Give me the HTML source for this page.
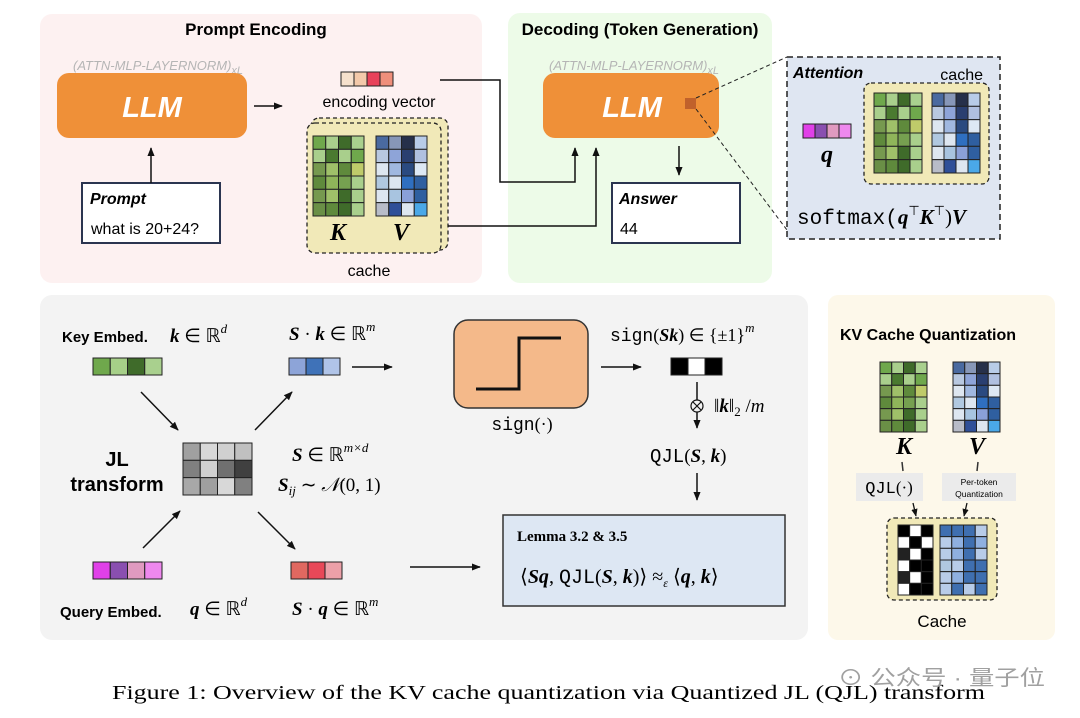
<!DOCTYPE html>
<html><head><meta charset="utf-8"><style>
html,body{margin:0;padding:0;background:#fff;}
svg{display:block;}
.s{font-family:"Liberation Sans",sans-serif;}
.m{font-family:"Liberation Serif",serif;font-style:italic;font-weight:bold;}
.r{font-family:"Liberation Serif",serif;}
.t{font-family:"Liberation Mono",monospace;}
</style></head><body>
<svg id="sv" width="1080" height="718" viewBox="0 0 1080 718" xmlns="http://www.w3.org/2000/svg">
<defs><marker id="a" viewBox="0 0 10 10" refX="9" refY="5" markerWidth="6" markerHeight="6" orient="auto"><path d="M0,1 L10,5 L0,9 z" fill="#111"/></marker></defs>
<rect x="40" y="14" width="442" height="269" rx="12" fill="#fdf1f1"/>
<rect x="508" y="13" width="264" height="270" rx="12" fill="#edfbe8"/>
<rect x="40" y="295" width="768" height="345" rx="12" fill="#f3f3f3"/>
<rect x="828" y="295" width="227" height="345" rx="10" fill="#fdf8ea"/>
<text x="256" y="35" class="s" font-size="17" font-weight="bold" text-anchor="middle">Prompt Encoding</text>
<text x="640" y="35" class="s" font-size="17" font-weight="bold" text-anchor="middle">Decoding (Token Generation)</text>
<text x="73" y="70" class="s" font-size="13" font-style="italic" fill="#b5b5b5">(ATTN-MLP-LAYERNORM)<tspan font-size="11" dy="4">xL</tspan></text>
<rect x="57" y="73" width="190" height="65" rx="12" fill="#ef9038"/>
<text x="152" y="117" class="s" font-size="29" font-weight="bold" font-style="italic" fill="#fff" text-anchor="middle">LLM</text>
<line x1="254" y1="106" x2="282" y2="106" stroke="#111" stroke-width="1.5" marker-end="url(#a)"/>
<g id="enc"></g>
<text x="379" y="107" class="s" font-size="16" text-anchor="middle">encoding vector</text>
<rect x="311" y="118" width="137" height="132" rx="8" fill="#f1e9b8" stroke="#222" stroke-dasharray="4,3" stroke-width="1.3"/>
<rect x="307" y="123" width="134" height="130" rx="8" fill="#f1e9b8" stroke="#222" stroke-dasharray="4,3" stroke-width="1.3"/>
<g id="g1"></g>
<text x="338" y="240" class="m" font-size="24" text-anchor="middle">K</text>
<text x="401" y="240" class="m" font-size="24" text-anchor="middle">V</text>
<text x="369" y="276" class="s" font-size="16" text-anchor="middle">cache</text>
<rect x="82" y="183" width="138" height="60" fill="#fff" stroke="#2b3550" stroke-width="2"/>
<text x="90" y="204" class="s" font-size="16" font-weight="bold" font-style="italic">Prompt</text>
<text x="91" y="234" class="s" font-size="16">what is 20+24?</text>
<line x1="151" y1="183" x2="151" y2="148" stroke="#111" stroke-width="1.5" marker-end="url(#a)"/>
<polyline points="440,80 500,80 500,182 575,182 575,148" fill="none" stroke="#111" stroke-width="1.5" marker-end="url(#a)"/>
<polyline points="448,226 596,226 596,148" fill="none" stroke="#111" stroke-width="1.5" marker-end="url(#a)"/>
<text x="549" y="70" class="s" font-size="13" font-style="italic" fill="#b5b5b5">(ATTN-MLP-LAYERNORM)<tspan font-size="11" dy="4">xL</tspan></text>
<rect x="543" y="73" width="176" height="65" rx="12" fill="#ef9038"/>
<text x="632" y="117" class="s" font-size="29" font-weight="bold" font-style="italic" fill="#fff" text-anchor="middle">LLM</text>
<rect x="685" y="98" width="11" height="11" fill="#c0612b"/>
<line x1="679" y1="146" x2="679" y2="175" stroke="#111" stroke-width="1.5" marker-end="url(#a)"/>
<rect x="612" y="183" width="128" height="60" fill="#fff" stroke="#2b3550" stroke-width="2"/>
<text x="619" y="204" class="s" font-size="16" font-weight="bold" font-style="italic">Answer</text>
<text x="620" y="234" class="s" font-size="16">44</text>
<rect x="787" y="57" width="213" height="182" fill="#dfe6f2" stroke="#222" stroke-dasharray="6,4" stroke-width="1.5"/>
<line x1="696" y1="98" x2="787" y2="57" stroke="#222" stroke-dasharray="4,3"/>
<line x1="696" y1="109" x2="787" y2="230" stroke="#222" stroke-dasharray="4,3"/>
<text x="793" y="78" class="s" font-size="16" font-weight="bold" font-style="italic">Attention</text>
<text x="983" y="80" class="s" font-size="16" text-anchor="end">cache</text>
<rect x="864" y="83" width="125" height="101" rx="7" fill="#f1e9b8" stroke="#222" stroke-dasharray="4,3" stroke-width="1.3"/>
<g id="g2"></g>
<g id="qv"></g>
<text x="827" y="162" class="m" font-size="24" text-anchor="middle">q</text>
<text x="797" y="224" font-size="21"><tspan class="t">softmax(</tspan><tspan class="m">q</tspan><tspan class="r" font-size="13" dy="-9">⊤</tspan><tspan class="m" dy="9">K</tspan><tspan class="r" font-size="13" dy="-9">⊤</tspan><tspan class="r" dy="9">)</tspan><tspan class="m">V</tspan></text>
<text x="62" y="342" class="s" font-size="15" font-weight="bold">Key Embed.</text>
<text x="170" y="342" font-size="19"><tspan class="m">k</tspan><tspan class="r"> ∈ ℝ</tspan><tspan class="r" font-style="italic" font-size="13" dy="-9">d</tspan></text>
<text x="289" y="340" font-size="19"><tspan class="m">S</tspan><tspan class="r"> · </tspan><tspan class="m">k</tspan><tspan class="r"> ∈ ℝ</tspan><tspan class="r" font-style="italic" font-size="13" dy="-9">m</tspan></text>
<g id="vecs"></g>
<line x1="141" y1="392" x2="178" y2="430" stroke="#111" stroke-width="1.5" marker-end="url(#a)"/>
<line x1="255" y1="430" x2="292" y2="392" stroke="#111" stroke-width="1.5" marker-end="url(#a)"/>
<line x1="143" y1="548" x2="180" y2="511" stroke="#111" stroke-width="1.5" marker-end="url(#a)"/>
<line x1="258" y1="512" x2="295" y2="549" stroke="#111" stroke-width="1.5" marker-end="url(#a)"/>
<text x="117" y="466" class="s" font-size="20" font-weight="bold" text-anchor="middle">JL</text>
<text x="117" y="491" class="s" font-size="20" font-weight="bold" text-anchor="middle">transform</text>
<text x="292" y="461" font-size="19"><tspan class="m">S</tspan><tspan class="r"> ∈ ℝ</tspan><tspan class="r" font-style="italic" font-size="13" dy="-9">m×d</tspan></text>
<text x="278" y="491" font-size="19"><tspan class="m">S</tspan><tspan class="r" font-style="italic" font-size="13" dy="4">ij</tspan><tspan class="r" dy="-4"> ∼ </tspan><tspan class="r" font-style="italic">𝒩</tspan><tspan class="r">(0, 1)</tspan></text>
<line x1="352" y1="367" x2="392" y2="367" stroke="#111" stroke-width="1.5" marker-end="url(#a)"/>
<rect x="454" y="320" width="134" height="88" rx="14" fill="#f4b98a" stroke="#333" stroke-width="1.5"/>
<polyline points="476,389 519,389 519,338 561,338" fill="none" stroke="#111" stroke-width="3"/>
<text x="522" y="430" font-size="18" text-anchor="middle"><tspan class="t">sign</tspan><tspan class="r">(·)</tspan></text>
<line x1="601" y1="367" x2="641" y2="367" stroke="#111" stroke-width="1.5" marker-end="url(#a)"/>
<text x="610" y="341" font-size="18"><tspan class="t">sign</tspan><tspan class="r">(</tspan><tspan class="m">Sk</tspan><tspan class="r">) ∈ {±1}</tspan><tspan class="r" font-style="italic" font-size="13" dy="-9">m</tspan></text>
<line x1="697" y1="382" x2="697" y2="428" stroke="#111" stroke-width="1.5" marker-end="url(#a)"/>
<circle cx="697" cy="406" r="6" fill="#f3f3f3" stroke="#111" stroke-width="1.2"/>
<path d="M693,402 L701,410 M701,402 L693,410" stroke="#111" stroke-width="1.2"/>
<text x="714" y="412" font-size="19"><tspan class="r">‖</tspan><tspan class="m">k</tspan><tspan class="r">‖</tspan><tspan class="r" font-size="13" dy="4">2</tspan><tspan class="r" dy="-4"> /</tspan><tspan class="r" font-style="italic">m</tspan></text>
<text x="650" y="462" font-size="19"><tspan class="t">QJL</tspan><tspan class="r">(</tspan><tspan class="m">S</tspan><tspan class="r">, </tspan><tspan class="m">k</tspan><tspan class="r">)</tspan></text>
<line x1="697" y1="473" x2="697" y2="500" stroke="#111" stroke-width="1.5" marker-end="url(#a)"/>
<rect x="503" y="515" width="282" height="91" fill="#dde7f3" stroke="#333" stroke-width="1.5"/>
<text x="517" y="541" class="r" font-size="15" font-weight="bold">Lemma 3.2 &amp; 3.5</text>
<text x="520" y="583" font-size="20"><tspan class="r">⟨</tspan><tspan class="m">Sq</tspan><tspan class="r">, </tspan><tspan class="t">QJL</tspan><tspan class="r">(</tspan><tspan class="m">S</tspan><tspan class="r">, </tspan><tspan class="m">k</tspan><tspan class="r">)⟩ ≈</tspan><tspan class="r" font-style="italic" font-size="12" dy="4">ε</tspan><tspan class="r" dy="-4"> ⟨</tspan><tspan class="m">q</tspan><tspan class="r">, </tspan><tspan class="m">k</tspan><tspan class="r">⟩</tspan></text>
<line x1="410" y1="567" x2="480" y2="567" stroke="#111" stroke-width="1.5" marker-end="url(#a)"/>
<text x="60" y="617" class="s" font-size="15" font-weight="bold">Query Embed.</text>
<text x="190" y="615" font-size="19"><tspan class="m">q</tspan><tspan class="r"> ∈ ℝ</tspan><tspan class="r" font-style="italic" font-size="13" dy="-9">d</tspan></text>
<text x="292" y="615" font-size="19"><tspan class="m">S</tspan><tspan class="r"> · </tspan><tspan class="m">q</tspan><tspan class="r"> ∈ ℝ</tspan><tspan class="r" font-style="italic" font-size="13" dy="-9">m</tspan></text>
<text x="840" y="340" class="s" font-size="16" font-weight="bold">KV Cache Quantization</text>
<g id="g3"></g>
<text x="904" y="454" class="m" font-size="24" text-anchor="middle">K</text>
<text x="977" y="454" class="m" font-size="24" text-anchor="middle">V</text>
<line x1="902" y1="462" x2="903" y2="471" stroke="#333" stroke-width="1.5"/>
<line x1="978" y1="462" x2="977" y2="471" stroke="#333" stroke-width="1.5"/>
<rect x="856" y="473" width="67" height="28" fill="#ebebeb"/>
<rect x="942" y="473" width="74" height="28" fill="#ebebeb"/>
<text x="889" y="493" font-size="17" text-anchor="middle"><tspan class="t">QJL</tspan><tspan class="r">(·)</tspan></text>
<text x="979" y="485" class="s" font-size="8.5" text-anchor="middle">Per-token</text>
<text x="979" y="497" class="s" font-size="8.5" text-anchor="middle">Quantization</text>
<line x1="913" y1="503" x2="916" y2="516" stroke="#111" stroke-width="1.3" marker-end="url(#a)"/>
<line x1="967" y1="503" x2="964" y2="516" stroke="#111" stroke-width="1.3" marker-end="url(#a)"/>
<rect x="887" y="518" width="110" height="82" rx="7" fill="#f1e9b8" stroke="#222" stroke-dasharray="4,3" stroke-width="1.3"/>
<g id="g4"></g>
<text x="942" y="627" class="s" font-size="17" text-anchor="middle">Cache</text>
<text x="112" y="699" class="r" font-size="20" textLength="873" lengthAdjust="spacingAndGlyphs">Figure 1: Overview of the KV cache quantization via Quantized JL (QJL) transform</text>
<text x="838" y="685" font-size="21" fill="#a0a0a0" textLength="207" lengthAdjust="spacingAndGlyphs" style="font-family:'Liberation Sans','Noto Sans CJK SC',sans-serif">⊙ 公众号 · 量子位</text>
</svg>
<script>
var NS="http://www.w3.org/2000/svg";
function R(g,x,y,w,h,f){var r=document.createElementNS(NS,"rect");r.setAttribute("x",x);r.setAttribute("y",y);r.setAttribute("width",w);r.setAttribute("height",h);r.setAttribute("fill",f);r.setAttribute("stroke","#222");r.setAttribute("stroke-width","1");g.appendChild(r);}
var K=[["#6fa84c","#a9cf8c","#3f6b2a","#a9d08e"],["#a9cf8c","#4a7a30","#a9cf8c","#6fa84c"],["#76994f","#9fc069","#5f8a3c","#bfcb6a"],["#5f8a3c","#8fb55a","#76a050","#a9cf8c"],["#76994f","#9fc069","#3f6b2a","#a9cf8c"],["#6a8f46","#5f8a3c","#3f6b2a","#a9cf8c"]];
var V=[["#4a6aa0","#8797b8","#26304a","#b8cce8"],["#b8c8e0","#8ea4d8","#2a3f70","#b0c0e0"],["#dde6f0","#a0b8e0","#2a4a80","#dde8f4"],["#b0c8e0","#dde6f0","#2f6fc0","#2f5fa0"],["#dde6f0","#a8c4e0","#8aa0d8","#2f5fa0"],["#b8bcc8","#2f4f98","#dde6f0","#4aa8e8"]];
var B=[["#000","#fff","#000"],["#fff","#000","#fff"],["#222","#fff","#000"],["#fff","#000","#000"],["#222","#fff","#000"],["#fff","#000","#000"]];
var QV=[["#3f6fb0","#3f6fb0","#3f6fb0","#b8cce8"],["#b8cce8","#8fb0e0","#3f6fb0","#8fb0e0"],["#b8cce8","#8fb0e0","#3f6fb0","#b8cce8"],["#b0c8e0","#b8cce8","#3f6fb0","#3f6fb0"],["#b8cce8","#8fb0e0","#3f6fb0","#3f6fb0"],["#b8cce8","#3f6fb0","#b8cce8","#3f6fb0"]];
function grid(g,x,y,w,h,M){var rs=M.length,cs=M[0].length;for(var i=0;i<rs;i++)for(var j=0;j<cs;j++)R(g,x+j*w/cs,y+i*h/rs,w/cs,h/rs,M[i][j]);}
function vec(g,x,y,w,h,c){for(var j=0;j<c.length;j++)R(g,x+j*w/c.length,y,w/c.length,h,c[j]);}
var $=function(i){return document.getElementById(i)};
grid($("g1"),313,136,51,80,K);grid($("g1"),376,136,51,80,V);
grid($("g2"),874,93,48,80,K);grid($("g2"),932,93,48,80,V);
grid($("g3"),880,362,47,70,K);grid($("g3"),953,362,47,70,V);
grid($("g4"),898,525,35,70,B);grid($("g4"),940,525,47,70,QV);
vec($("enc"),341,72,52,14,["#f5e0cc","#f3c9aa","#e8425a","#ef8f7b"]);
vec($("qv"),803,124,48,14,["#e040e8","#8a4fb0","#e09ac0","#ee88ee"]);
var vs=$("vecs");
vec(vs,93,358,69,17,["#6fa84c","#a6cf88","#3f6b2a","#a9d08e"]);
vec(vs,289,358,51,17,["#8da4d8","#3f72b8","#b0c4e8"]);
vec(vs,671,358,51,17,["#000","#fff","#000"]);
vec(vs,93,562,69,17,["#e040e8","#8a4fb0","#e09ac0","#ee88ee"]);
vec(vs,291,562,51,17,["#e06860","#e84858","#eca0a8"]);
grid(vs,183,443,69,52,[["#a0a0a0","#d8d8d8","#d0d0d0","#c0c0c0"],["#808080","#d0d0d0","#707070","#404040"],["#a8a8a8","#a0a0a0","#d8d8d8","#808080"]]);
</script>
</body></html>
